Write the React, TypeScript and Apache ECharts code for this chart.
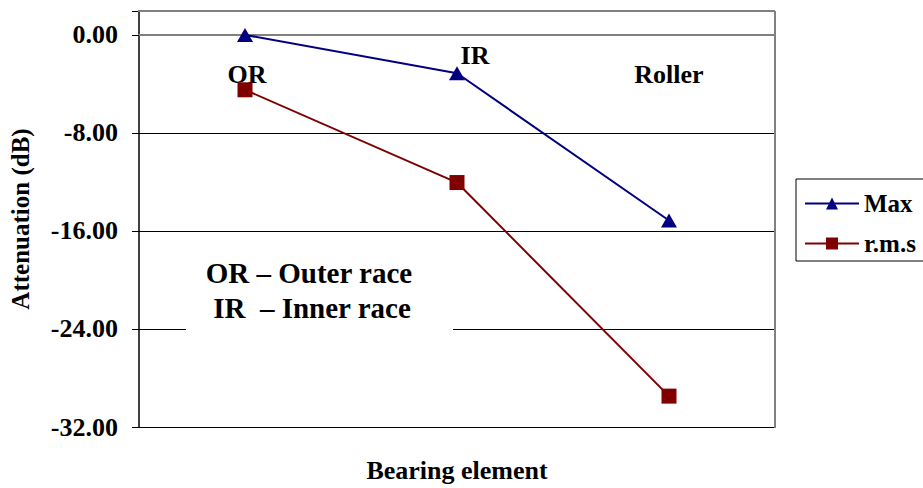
import React, { useEffect, useRef } from "react";
import * as echarts from "echarts";

const categories = ["OR", "IR", "Roller"];
const maxValues = [0, -3.13, -15.15];
const rmsValues = [-4.48, -12.05, -29.48];
const yTicks = [-32, -24, -16, -8, 0];
const pointLabels: [string, number, string, number][] = [
  ["OR", -3.26, "OR", 2],
  ["IR", -1.71, "IR", 18],
  ["Roller", -3.26, "Roller", 0],
];

const FONT = "Liberation Serif";

export default function App() {
  const ref = useRef<HTMLDivElement>(null);
  useEffect(() => {
    if (!ref.current) return;
    document.body.style.margin = "0";
    const chart = echarts.init(ref.current, undefined, { renderer: "svg" });
    const gl = 138, gt = 11, gr = 775, gb = 428;
    chart.setOption({
      animation: false,
      backgroundColor: "#ffffff",
      textStyle: { fontFamily: FONT },
      grid: { left: gl, top: gt, right: 923 - gr, bottom: 488 - gb, containLabel: false },
      xAxis: {
        type: "category",
        data: categories,
        boundaryGap: true,
        name: "Bearing element",
        nameLocation: "middle",
        nameGap: 30,
        nameTextStyle: { fontFamily: FONT, fontWeight: "bold", fontSize: 26, color: "#000" },
        axisLine: { show: true, lineStyle: { color: "#808080", width: 2 } },
        axisTick: { show: false },
        axisLabel: { show: false },
        splitLine: { show: false },
      },
      yAxis: {
        type: "value",
        min: yTicks[0],
        max: 1.95,
        interval: 8,
        name: "Attenuation (dB)",
        nameLocation: "middle",
        nameGap: 106,
        nameTextStyle: { fontFamily: FONT, fontWeight: "bold", fontSize: 25, color: "#000" },
        axisLine: { show: true, lineStyle: { color: "#000", width: 1.5 } },
        axisTick: { show: true, inside: false, length: 7, lineStyle: { color: "#000" } },
        axisLabel: {
          margin: 21,
          fontFamily: FONT,
          fontWeight: "bold",
          fontSize: 26,
          color: "#000",
          formatter: (v: number) => (v > 0.5 ? "" : Math.abs(v) < 1e-9 ? "0.00" : v.toFixed(2)),
        },
        splitLine: { show: true, lineStyle: { color: "#000", width: 1 } },
      },
      legend: {
        orient: "vertical",
        left: 796,
        top: 179,
        width: 200,
        padding: [12, 40, 5, 8],
        itemGap: 15,
        itemWidth: 54,
        itemHeight: 15,
        borderColor: "#000",
        borderWidth: 1,
        backgroundColor: "#fff",
        textStyle: { fontFamily: FONT, fontWeight: "bold", fontSize: 25, color: "#000" },
        data: ["Max", "r.m.s"],
      },
      series: [
        {
          name: "Max",
          type: "line",
          data: maxValues,
          symbol: "triangle",
          symbolSize: [16, 14],
          itemStyle: { color: "#000080" },
          lineStyle: { color: "#000080", width: 2 },
          z: 5,
        },
        {
          name: "r.m.s",
          type: "line",
          data: rmsValues,
          symbol: "rect",
          symbolSize: 15,
          itemStyle: { color: "#800000" },
          lineStyle: { color: "#800000", width: 2 },
          z: 5,
        },
        {
          name: "labels",
          type: "scatter",
          symbolSize: 0,
          silent: true,
          itemStyle: { color: "#000", opacity: 1 },
          data: pointLabels.map((p) => ({
            value: [p[0], p[1]],
            label: {
              show: true,
              position: "inside",
              formatter: p[2],
              offset: [p[3], 0],
              fontFamily: FONT,
              fontWeight: "bold",
              fontSize: 26,
              color: "#000",
              textBorderWidth: 0,
              textBorderColor: "transparent",
              opacity: 1,
            },
          })),
          z: 4,
        },
      ],
      graphic: [
        {
          type: "line",
          z: 50,
          shape: { x1: gl, y1: gt, x2: gr, y2: gt },
          style: { stroke: "#808080", lineWidth: 2 },
        },
        {
          type: "line",
          z: 50,
          shape: { x1: gr, y1: gt, x2: gr, y2: gb },
          style: { stroke: "#808080", lineWidth: 2 },
        },
        {
          type: "rect",
          z: 40,
          shape: { x: 186, y: 252, width: 267, height: 92 },
          style: { fill: "#fff", stroke: null },
        },
        {
          type: "text",
          z: 41,
          x: 309,
          y: 273,
          style: {
            text: "OR – Outer race",
            fontFamily: FONT,
            fontWeight: "bold",
            fontSize: 29,
            fill: "#000",
            align: "center",
            verticalAlign: "middle",
          },
        },
        {
          type: "text",
          z: 41,
          x: 312,
          y: 308,
          style: {
            text: "IR  – Inner race",
            fontFamily: FONT,
            fontWeight: "bold",
            fontSize: 29,
            fill: "#000",
            align: "center",
            verticalAlign: "middle",
          },
        },
      ],
    });
    return () => chart.dispose();
  }, []);
  return <div ref={ref} style={{ width: 923, height: 488 }} />;
}
